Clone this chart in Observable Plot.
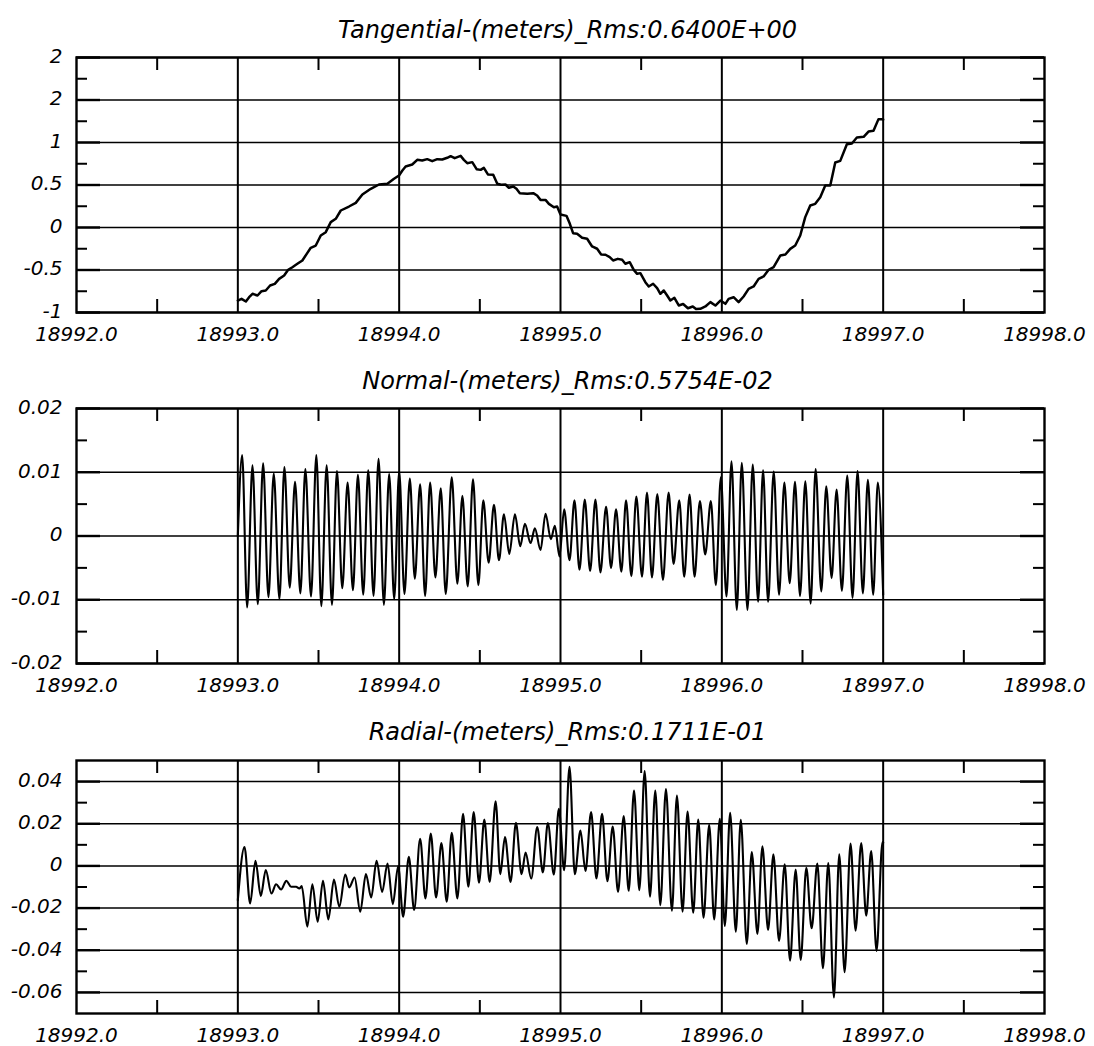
<!DOCTYPE html>
<html>
<head>
<meta charset="utf-8">
<script src="https://cdn.jsdelivr.net/npm/d3@7"></script>
<script src="https://cdn.jsdelivr.net/npm/@observablehq/plot@0.6"></script>
<style>
  html, body { margin: 0; padding: 0; background: #fff; }
  #chart svg { display: block; }
</style>
</head>
<body>
<div id="chart"></div>
<script>
// ---------- shared axis data ----------
const startDay = 18993;
const xDomain = [18992, 18998];
const xTicks = [18992, 18993, 18994, 18995, 18996, 18997, 18998];
const xGrid = [18993, 18994, 18995, 18996, 18997];
const xMinorTicks = [18992.5, 18993.5, 18994.5, 18995.5, 18996.5, 18997.5];

// ---------- Tangential ----------
const tanTitle = "Tangential-(meters)_Rms:0.6400E+00";
const tanDomain = [-1, 2];
const tanTicks = [-1, -0.5, 0, 0.5, 1, 1.5, 2];
const tanTickLabels = ["-1", "-0.5", "0", "0.5", "1", "2", "2"];
const tanMinor = [-0.75, -0.25, 0.25, 0.75, 1.25, 1.75];
const tanT = [0.000,0.023,0.050,0.070,0.091,0.122,0.147,0.173,0.200,0.229,0.256,0.287,0.312,0.338,0.369,0.400,0.427,0.452,0.483,0.514,0.545,0.576,0.607,0.638,0.689,0.731,0.772,0.824,0.875,
  0.927,0.968,0.999,1.020,1.040,1.081,1.112,1.143,1.174,1.205,1.236,1.267,1.298,1.319,1.344,1.381,1.401,1.422,1.453,1.480,1.505,1.525,1.550,1.583,1.608,1.633,1.659,1.680,1.707,1.727,1.748,1.794,1.831,1.855,1.876,1.907,1.928,1.959,1.979,2.000,2.037,2.058,2.078,2.103,2.134,2.165,2.196,2.227,2.252,2.279,2.305,2.326,2.355,2.382,2.402,2.429,2.454,2.475,2.495,2.526,2.547,2.574,2.599,2.619,2.640,2.661,2.681,2.706,2.733,2.760,2.790,2.820,2.840,
  2.867,2.898,2.929,2.960,2.991,3.022,3.042,3.073,3.104,3.135,3.166,3.197,3.228,3.259,3.290,3.321,3.363,3.394,3.424,3.455,3.486,3.517,3.548,3.579,3.610,3.641,3.672,3.703,3.734,3.775,3.806,3.837,3.879,3.909,3.940,3.971,3.992,4.000];
const tanV = [-0.859,-0.839,-0.871,-0.820,-0.780,-0.800,-0.749,-0.741,-0.682,-0.663,-0.604,-0.565,-0.498,-0.467,-0.427,-0.388,-0.310,-0.239,-0.212,-0.094,-0.055,0.063,0.102,0.200,0.247,0.290,0.388,0.455,0.506,
  0.514,0.573,0.612,0.671,0.718,0.741,0.796,0.788,0.804,0.780,0.804,0.800,0.820,0.839,0.816,0.843,0.796,0.757,0.769,0.686,0.678,0.702,0.624,0.620,0.514,0.502,0.506,0.467,0.482,0.455,0.404,0.396,0.404,0.376,0.325,0.325,0.278,0.239,0.247,0.153,0.137,0.043,-0.067,-0.074,-0.121,-0.133,-0.223,-0.250,-0.317,-0.321,-0.349,-0.388,-0.369,-0.380,-0.427,-0.408,-0.498,-0.545,-0.537,-0.643,-0.694,-0.662,-0.713,-0.780,-0.741,-0.800,-0.859,-0.827,-0.917,-0.900,-0.950,-0.930,-0.960,
  -0.957,-0.929,-0.878,-0.918,-0.859,-0.898,-0.839,-0.820,-0.878,-0.812,-0.722,-0.694,-0.604,-0.576,-0.498,-0.467,-0.329,-0.318,-0.251,-0.212,-0.094,0.122,0.259,0.278,0.357,0.494,0.494,0.765,0.784,0.980,0.988,1.059,1.067,1.129,1.137,1.275,1.275,1.270];

// ---------- Normal ----------
const norTitle = "Normal-(meters)_Rms:0.5754E-02";
const norDomain = [-0.02, 0.02];
const norTicks = [-0.02, -0.01, 0, 0.01, 0.02];
const norTickLabels = ["-0.02", "-0.01", "0", "0.01", "0.02"];
const norMinor = [-0.015, -0.005, 0.005, 0.015];
const norT = [0.000,0.0268,0.0577,0.0907,0.1237,0.1567,0.1897,0.2227,0.2577,0.2887,0.3216,0.3546,0.3876,0.4186,0.4536,0.4866,0.5175,0.5505,0.5835,0.6144,0.6474,0.6804,0.7134,0.7443,0.7773,0.8082,0.8412,0.8722,0.9052,0.9381,0.9691,
  1.0000,1.0330,1.0660,1.0969,1.1299,1.1608,1.1918,1.2247,1.2577,1.2887,1.3258,1.3608,1.3918,1.4247,1.4577,1.4907,1.5216,1.5546,1.5876,1.6186,1.6495,1.6825,1.7175,1.7505,1.7794,1.8144,1.8412,1.8763,1.9072,1.9402,1.9649,1.9938,
  2.0227,2.0557,2.0866,2.1175,2.1505,2.1835,2.2165,2.2474,2.2825,2.3134,2.3443,2.3773,2.4062,2.4392,2.4701,2.5052,2.5361,2.5670,2.6000,2.6350,2.6701,2.7010,2.7361,2.7670,2.8000,2.8309,2.8639,2.8969,2.9320,2.9629,2.9938,
  3.0289,3.0598,3.0928,3.1237,3.1588,3.1918,3.2247,3.2557,3.2866,3.3216,3.3546,3.3876,3.4206,3.4536,3.4845,3.5175,3.5505,3.5814,3.6165,3.6474,3.6804,3.7113,3.7443,3.7773,3.8103,3.8412,3.8742,3.9052,3.9381,3.9670,4.0000];
const norV = [0.0000,0.0127,-0.0112,0.0111,-0.0107,0.0114,-0.0096,0.0098,-0.0099,0.0108,-0.0081,0.0085,-0.0090,0.0105,-0.0095,0.0127,-0.0110,0.0111,-0.0108,0.0102,-0.0082,0.0084,-0.0085,0.0096,-0.0092,0.0103,-0.0094,0.0121,-0.0108,0.0097,-0.0099,
  0.0101,-0.0091,0.0090,-0.0067,0.0081,-0.0094,0.0084,-0.0065,0.0075,-0.0091,0.0092,-0.0075,0.0063,-0.0079,0.0089,-0.0077,0.0056,-0.0042,0.0049,-0.0038,0.0034,-0.0028,0.0034,-0.0016,0.0019,-0.0011,0.0012,-0.0022,0.0035,-0.0005,0.0016,-0.0032,
  0.0042,-0.0038,0.0056,-0.0053,0.0057,-0.0055,0.0057,-0.0057,0.0046,-0.0050,0.0042,-0.0056,0.0056,-0.0063,0.0062,-0.0064,0.0068,-0.0065,0.0066,-0.0069,0.0068,-0.0044,0.0056,-0.0064,0.0065,-0.0064,0.0055,-0.0029,0.0055,-0.0077,0.0092,
  -0.0095,0.0117,-0.0116,0.0115,-0.0116,0.0112,-0.0103,0.0103,-0.0103,0.0101,-0.0092,0.0084,-0.0074,0.0085,-0.0094,0.0086,-0.0106,0.0105,-0.0087,0.0078,-0.0066,0.0073,-0.0086,0.0095,-0.0097,0.0102,-0.0090,0.0088,-0.0092,0.0084,-0.0092];

// ---------- Radial ----------
const radTitle = "Radial-(meters)_Rms:0.1711E-01";
const radDomain = [-0.07, 0.05];
const radTicks = [-0.06, -0.04, -0.02, 0, 0.02, 0.04];
const radTickLabels = ["-0.06", "-0.04", "-0.02", "0", "0.02", "0.04"];
const radMinor = [-0.05, -0.03, -0.01, 0.01, 0.03];
const radT = [0.000,0.0412,0.0763,0.1093,0.1423,0.1732,0.2082,0.2371,0.2680,0.3010,0.3299,0.3608,0.3814,0.3959,0.4309,0.4619,0.4948,0.5278,0.5608,0.5959,0.6289,0.6660,0.6907,0.7237,0.7588,0.7938,0.8268,0.8598,0.8948,0.9278,0.9608,0.9938,
  1.0247,1.0598,1.0928,1.1299,1.1629,1.1959,1.2289,1.2619,1.2948,1.3258,1.3608,1.3959,1.4289,1.4619,1.4948,1.5278,1.5608,1.5979,1.6268,1.6557,1.6907,1.7237,1.7588,1.7835,1.8186,1.8557,1.8907,1.9216,1.9588,1.9897,
  2.0227,2.0557,2.0887,2.1237,2.1546,2.1897,2.2227,2.2577,2.2907,2.3237,2.3567,2.3918,2.4227,2.4557,2.4887,2.5216,2.5546,2.5876,2.6186,2.6536,2.6907,2.7216,2.7567,2.7876,2.8227,2.8536,2.8866,2.9216,2.9526,2.9876,
  3.0186,3.0515,3.0866,3.1175,3.1546,3.1856,3.2206,3.2515,3.2866,3.3196,3.3546,3.3897,3.4227,3.4577,3.4887,3.5237,3.5567,3.5918,3.6268,3.6598,3.6948,3.7278,3.7608,3.7979,3.8289,3.8639,3.8948,3.9258,3.9588,3.9959,4.0000];
const radV = [-0.0162,0.0090,-0.0178,0.0024,-0.0142,-0.0020,-0.0131,-0.0087,-0.0112,-0.0071,-0.0099,-0.0099,-0.0107,-0.0096,-0.0288,-0.0087,-0.0265,-0.0071,-0.0254,-0.0065,-0.0194,-0.0041,-0.0102,-0.0055,-0.0217,-0.0039,-0.0150,0.0024,-0.0123,0.0011,-0.0181,-0.0002,
  -0.0241,0.0043,-0.0209,0.0129,-0.0154,0.0153,-0.0150,0.0109,-0.0170,0.0157,-0.0154,0.0247,-0.0099,0.0255,-0.0080,0.0220,-0.0076,0.0307,-0.0039,0.0137,-0.0076,0.0205,-0.0039,0.0063,-0.0060,0.0184,-0.0031,0.0203,-0.0041,0.0271,
  -0.0020,0.0470,-0.0039,0.0168,-0.0024,0.0255,-0.0060,0.0247,-0.0072,0.0187,-0.0123,0.0236,-0.0118,0.0358,-0.0115,0.0450,-0.0146,0.0358,-0.0186,0.0365,-0.0213,0.0334,-0.0217,0.0258,-0.0222,0.0220,-0.0246,0.0195,-0.0254,0.0224,
  -0.0285,0.0252,-0.0312,0.0219,-0.0370,0.0066,-0.0323,0.0093,-0.0304,0.0055,-0.0356,0.0008,-0.0449,-0.0017,-0.0446,-0.0009,-0.0296,0.0011,-0.0485,0.0014,-0.0624,0.0055,-0.0504,0.0106,-0.0307,0.0109,-0.0236,0.0071,-0.0403,0.0113,0.0110];

// ---------- panel builder ----------
function panel(o) {
  const data = o.t.map((d, i) => ({day: startDay + d, value: o.v[i]}));
  const [lo, hi] = o.domain;
  const labelOf = new Map(o.ticks.map((d, i) => [d, o.labels[i]]));
  return Plot.plot({
    width: 1094,
    height: o.height,
    marginLeft: 76,
    marginRight: 50,
    marginTop: o.marginTop,
    marginBottom: o.marginBottom,
    x: {domain: xDomain, label: null},
    y: {domain: o.domain, label: null},
    style: {
      fontFamily: "'DejaVu Sans', sans-serif",
      fontStyle: "italic",
      fontSize: "20px",
      color: "#000",
      background: "#fff",
      overflow: "visible"
    },
    marks: [
      Plot.ruleY(o.ticks, {stroke: "#000", strokeWidth: 1.5}),
      Plot.ruleX(xGrid, {stroke: "#000", strokeWidth: 2}),
      Plot.ruleX(xMinorTicks, {y1: lo, y2: lo, insetBottom: 13, stroke: "#000", strokeWidth: 2}),
      Plot.ruleX(xMinorTicks, {y1: hi, y2: hi, insetTop: 13, stroke: "#000", strokeWidth: 2}),
      Plot.ruleY(o.minor, {x1: xDomain[0], x2: xDomain[0], insetLeft: 11, stroke: "#000", strokeWidth: 2}),
      Plot.ruleY(o.minor, {x1: xDomain[1], x2: xDomain[1], insetRight: 11, stroke: "#000", strokeWidth: 2}),
      Plot.ruleY(o.ticks, {x1: xDomain[0], x2: xDomain[0], insetLeft: 24, stroke: "#000", strokeWidth: 2.4}),
      Plot.ruleY(o.ticks, {x1: xDomain[1], x2: xDomain[1], insetRight: 24, stroke: "#000", strokeWidth: 2.4}),
      Plot.line(data, {x: "day", y: "value", stroke: "#000", strokeWidth: o.lineWidth, curve: o.curve}),
      Plot.frame({stroke: "#000", strokeWidth: 2.4}),
      Plot.axisX(xTicks, {tickSize: 0, tickPadding: 14, tickFormat: d => d.toFixed(1), fontSize: 20, label: null}),
      Plot.axisY(o.ticks, {tickSize: 0, tickPadding: 14, tickFormat: d => labelOf.get(d), fontSize: 20, dy: -1, label: null}),
      Plot.text([o.title], {text: d => d, frameAnchor: "top", dy: o.titleDy, dx: 7, fontSize: 24})
    ]
  });
}

const chart = document.getElementById("chart");
chart.append(panel({title: tanTitle, t: tanT, v: tanV, domain: tanDomain, ticks: tanTicks, labels: tanTickLabels, minor: tanMinor,
  height: 351, marginTop: 57, marginBottom: 39, lineWidth: 2.5, curve: "linear", titleDy: -37}));
chart.append(panel({title: norTitle, t: norT, v: norV, domain: norDomain, ticks: norTicks, labels: norTickLabels, minor: norMinor,
  height: 351, marginTop: 57, marginBottom: 39, lineWidth: 2.1, curve: "monotone-x", titleDy: -37}));
chart.append(panel({title: radTitle, t: radT, v: radV, domain: radDomain, ticks: radTicks, labels: radTickLabels, minor: radMinor,
  height: 344, marginTop: 58, marginBottom: 33, lineWidth: 2.1, curve: "monotone-x", titleDy: -38}));
</script>
</body>
</html>
